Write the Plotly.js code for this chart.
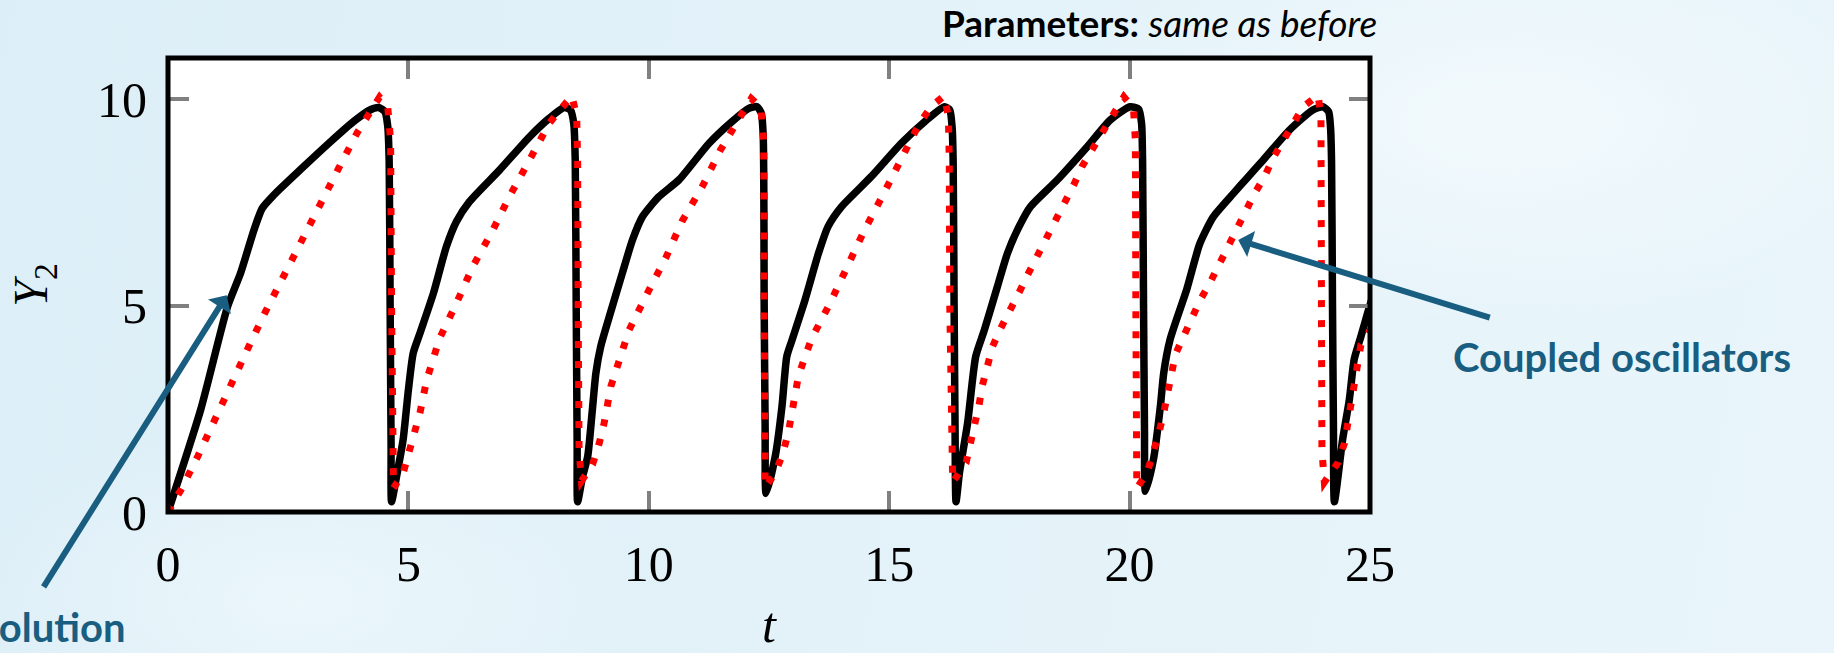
<!DOCTYPE html>
<html>
<head>
<meta charset="utf-8">
<script src="https://cdn.plot.ly/plotly-3.0.1.min.js"></script>
<style>
  html, body { margin: 0; padding: 0; width: 1834px; height: 653px; overflow: hidden; }
  body {
    background:
      radial-gradient(ellipse 600px 300px at 1500px 120px, rgba(245,251,253,0.8), rgba(245,251,253,0) 70%),
      radial-gradient(ellipse 500px 260px at 300px 600px, rgba(240,249,252,0.7), rgba(240,249,252,0) 70%),
      linear-gradient(100deg, #dceef7 0%, #e3f2f9 45%, #e9f5fa 100%);
  }
  #chart { width: 1834px; height: 653px; }
  .scatterlayer .js-line { stroke-miterlimit: 12; }
</style>
</head>
<body>
<div id="chart"></div>
<script>
// Y2 of the single oscillator (solid black)
const tSingle = [0, 0.68, 1.24, 1.51, 1.79, 1.96, 2.20, 2.75, 3.38, 3.86, 4.20, 4.38, 4.51, 4.57, 4.60, 4.62, 4.64, 4.65,
  4.76, 4.89, 5.00, 5.10, 5.24, 5.52, 5.79, 6.00, 6.27, 6.90, 7.52, 7.93, 8.24, 8.37, 8.44, 8.47, 8.49, 8.51, 8.52,
  8.62, 8.73, 8.82, 8.90, 9.00, 9.18, 9.45, 9.66, 9.87, 10.21, 10.63, 11.25, 11.73, 12.08, 12.25, 12.34, 12.38, 12.40, 12.42, 12.44,
  12.63, 12.77, 12.87, 12.98, 13.25, 13.53, 13.73, 14.01, 14.63, 15.25, 15.74, 16.15, 16.26, 16.31, 16.33, 16.35, 16.37, 16.39,
  16.46, 16.63, 16.80, 16.98, 17.25, 17.46, 17.67, 17.94, 18.50, 19.12, 19.60, 20.01, 20.19, 20.25, 20.27, 20.29, 20.31, 20.33,
  20.50, 20.64, 20.71, 20.84, 21.19, 21.46, 21.74, 22.16, 22.45, 22.78, 23.33, 23.81, 24.02, 24.14, 24.18, 24.20, 24.22, 24.24, 24.26,
  24.43, 24.57, 24.67, 24.81, 24.95, 25.05];
const ySingle = [0, 2.48, 4.98, 5.79, 6.84, 7.36, 7.68, 8.29, 8.97, 9.46, 9.74, 9.80, 9.70, 9.35, 8.50, 5.00, 1.60, 0.25,
  0.90, 1.75, 2.96, 3.85, 4.33, 5.30, 6.43, 7.04, 7.52, 8.29, 9.09, 9.54, 9.80, 9.74, 9.40, 8.50, 5.00, 1.60, 0.25,
  0.85, 1.35, 2.40, 3.37, 4.01, 4.74, 5.79, 6.59, 7.16, 7.64, 8.05, 8.93, 9.46, 9.78, 9.82, 9.66, 9.10, 5.00, 2.00, 0.45,
  1.35, 2.56, 3.77, 4.17, 5.14, 6.27, 6.92, 7.40, 8.13, 8.93, 9.46, 9.82, 9.74, 9.30, 8.50, 5.00, 2.00, 0.25,
  0.94, 2.15, 3.77, 4.41, 5.46, 6.27, 6.84, 7.40, 8.05, 8.85, 9.50, 9.82, 9.76, 9.40, 8.50, 5.00, 2.00, 0.50,
  1.30, 2.56, 3.37, 4.17, 5.40, 6.50, 7.15, 7.72, 8.10, 8.53, 9.26, 9.74, 9.82, 9.70, 9.30, 8.50, 5.00, 2.00, 0.25,
  1.75, 2.72, 3.69, 4.25, 4.82, 5.20];

// Y2 of the coupled oscillators (dotted red)
const tCoupled = [0, 0.27, 0.62, 0.96, 1.30, 1.68, 2.03, 2.41, 2.79, 3.17, 3.55, 3.93, 4.17, 4.40, 4.57, 4.63, 4.65, 4.67, 4.69,
  4.89, 5.10, 5.24, 5.38, 5.52, 5.65, 6.00, 6.34, 6.76, 7.10, 7.52, 7.93, 8.21, 8.40, 8.50, 8.52, 8.53, 8.55, 8.60,
  8.83, 8.97, 9.07, 9.21, 9.35, 9.59, 9.97, 10.35, 10.69, 11.11, 11.49, 11.87, 12.13, 12.33, 12.39, 12.40, 12.41, 12.42,
  12.63, 12.78, 12.90, 12.97, 13.11, 13.25, 13.39, 13.77, 14.11, 14.49, 14.87, 15.25, 15.63, 15.87, 16.14, 16.23, 16.25, 16.26, 16.28, 16.32,
  16.60, 16.70, 16.80, 16.87, 16.94, 17.05, 17.15, 17.32, 17.53, 17.71, 17.88, 18.08, 18.25, 18.46, 18.64, 18.84, 19.01, 19.22, 19.43, 19.64, 19.88, 20.08, 20.12, 20.13, 20.14, 20.15,
  20.36, 20.50, 20.60, 20.71, 20.78, 20.84, 20.95, 21.12, 21.29, 21.47, 21.67, 21.85, 22.05, 22.22, 22.42, 22.60, 22.81, 22.98, 23.19, 23.40, 23.61, 23.92, 23.98, 23.99, 24.00, 24.05,
  24.33, 24.47, 24.54, 24.61, 24.67, 24.74, 24.81, 24.95, 25.05];
const yCoupled = [0, 0.54, 1.35, 2.23, 3.12, 4.01, 4.86, 5.75, 6.59, 7.48, 8.33, 9.18, 9.62, 10.05, 9.82, 9.00, 5.00, 1.50, 0.58,
  0.94, 1.75, 2.40, 3.20, 3.77, 4.21, 5.06, 5.95, 6.84, 7.64, 8.53, 9.42, 9.82, 10.08, 9.60, 8.50, 5.00, 1.50, 0.75,
  1.15, 1.67, 2.15, 3.04, 3.53, 4.41, 5.30, 6.15, 7.04, 7.88, 8.77, 9.54, 10.02, 9.80, 9.00, 5.00, 1.50, 0.60,
  0.94, 1.39, 1.91, 2.36, 3.28, 3.77, 4.21, 5.06, 5.95, 6.84, 7.68, 8.57, 9.42, 9.82, 10.08, 9.60, 8.50, 5.00, 1.50, 0.72,
  1.20, 1.67, 2.15, 2.60, 3.08, 3.53, 4.01, 4.45, 4.90, 5.34, 5.75, 6.19, 6.59, 7.08, 7.48, 7.93, 8.37, 8.77, 9.22, 9.58, 10.06, 9.78, 9.00, 5.00, 1.50, 0.58,
  0.94, 1.43, 1.87, 2.40, 2.84, 3.32, 3.81, 4.25, 4.70, 5.14, 5.55, 5.99, 6.43, 6.86, 7.30, 7.72, 8.13, 8.57, 9.01, 9.42, 9.82, 10.10, 9.60, 5.00, 1.50, 0.72,
  1.19, 1.67, 2.15, 2.64, 3.12, 3.56, 4.05, 4.30, 4.50];

const xTicks = [0, 5, 10, 15, 20, 25];
const yTicks = [0, 5, 10];

const teal = '#195e80';
const serif = '"Liberation Serif", "DejaVu Serif", serif';
const sans = 'Lato, "Open Sans", sans-serif';

const traces = [
  {
    x: tSingle, y: ySingle, type: 'scatter', mode: 'lines',
    line: { color: '#000000', width: 7.5, shape: 'spline', smoothing: 0.6 },
    hoverinfo: 'skip'
  },
  {
    x: tCoupled, y: yCoupled, type: 'scatter', mode: 'lines',
    line: { color: '#ff0000', width: 7, dash: '7px,13px' },
    hoverinfo: 'skip'
  }
];

const axisCommon = {
  ticks: 'inside', ticklen: 21, tickwidth: 4, tickcolor: '#808080',
  mirror: 'allticks', showline: false, showgrid: false, zeroline: false,
  tickfont: { family: serif, size: 50, color: '#000' }
};

const layout = {
  width: 1834, height: 653,
  margin: { l: 168, r: 464, t: 58, b: 141 },
  paper_bgcolor: 'rgba(0,0,0,0)',
  plot_bgcolor: '#ffffff',
  showlegend: false,
  xaxis: Object.assign({}, axisCommon, {
    range: [0, 25], tickvals: xTicks, ticktext: xTicks.map(String),
    ticklabelstandoff: 18,
    title: { text: '<i>t</i>', font: { family: serif, size: 50, color: '#000' }, standoff: 40 }
  }),
  yaxis: Object.assign({}, axisCommon, {
    range: [0, 11], tickvals: yTicks, ticktext: yTicks.map(String),
    ticklabelstandoff: 20,
    title: { text: '<i>Y</i><sub>2</sub>', font: { family: serif, size: 48, color: '#000' }, standoff: 34 }
  }),
  shapes: [
    { type: 'rect', xref: 'paper', yref: 'paper', x0: 0, x1: 1, y0: 0, y1: 1,
      line: { color: '#000', width: 5 }, layer: 'above' }
  ],
  annotations: [
    { xref: 'paper', yref: 'paper', x: 1.0075, y: 1.079, xanchor: 'right', yanchor: 'middle',
      text: '<b>Parameters:</b> <i>same as before</i>', showarrow: false,
      font: { family: sans, size: 37, color: '#000' } },
    { xref: 'paper', yref: 'paper', x: 1.2097, y: 0.341, xanchor: 'center', yanchor: 'middle',
      text: '<b>Coupled oscillators</b>', showarrow: false,
      font: { family: sans, size: 40, color: teal } },
    { xref: 'paper', yref: 'paper', x: -0.0335, y: -0.253, xanchor: 'right', yanchor: 'middle',
      text: '<b>Numerical solution</b>', showarrow: false,
      font: { family: sans, size: 40, color: teal } },
    { xref: 'x', yref: 'y', x: 1.22, y: 5.25, ax: -184, ay: 293, axref: 'pixel', ayref: 'pixel',
      text: '', showarrow: true, arrowhead: 1, arrowsize: 0.75, arrowwidth: 6, arrowcolor: teal },
    { xref: 'x', yref: 'y', x: 22.26, y: 6.59, ax: 253, ay: 78, axref: 'pixel', ayref: 'pixel',
      text: '', showarrow: true, arrowhead: 1, arrowsize: 0.75, arrowwidth: 6, arrowcolor: teal }
  ]
};

Plotly.newPlot('chart', traces, layout, { displayModeBar: false, staticPlot: true });
</script>
</body>
</html>
